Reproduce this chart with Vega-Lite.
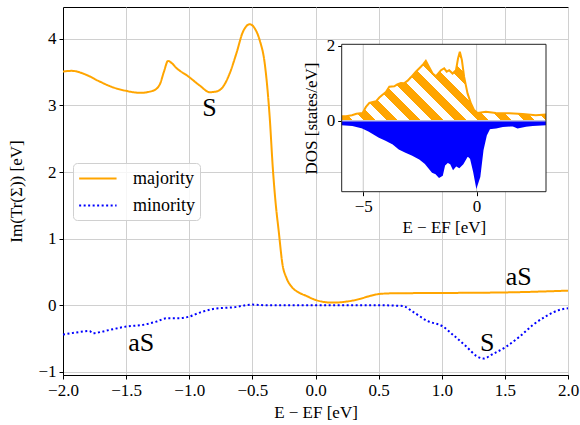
{
  "$schema": "https://vega.github.io/schema/vega-lite/v6.json",
  "width": 505,
  "height": 368,
  "autosize": {"type": "none"},
  "padding": {"left": 63, "top": 7, "right": 12, "bottom": 50},
  "background": "white",
  "config": {
    "font": "Liberation Serif",
    "view": {"stroke": "black", "strokeWidth": 1},
    "axis": {
      "labelFont": "Liberation Serif", "labelFontSize": 17, "labelColor": "black",
      "titleFont": "Liberation Serif", "titleFontSize": 17, "titleFontWeight": "normal", "titleColor": "black",
      "tickColor": "black", "domainColor": "black", "gridColor": "#d0d0d0", "gridWidth": 1,
      "tickSize": 4, "labelPadding": 3, "zindex": 0, "labelFlush": false, "labelOverlap": false, "labelBound": false
    }
  },
  "datasets": {
    "self": [
      {"series": "majority", "E": -2.0, "v": 3.51}, {"series": "majority", "E": -1.93, "v": 3.52}, {"series": "majority", "E": -1.815, "v": 3.46},
      {"series": "majority", "E": -1.71, "v": 3.36}, {"series": "majority", "E": -1.6, "v": 3.27}, {"series": "majority", "E": -1.5, "v": 3.22},
      {"series": "majority", "E": -1.39, "v": 3.19}, {"series": "majority", "E": -1.29, "v": 3.22}, {"series": "majority", "E": -1.235, "v": 3.31},
      {"series": "majority", "E": -1.2, "v": 3.51}, {"series": "majority", "E": -1.168, "v": 3.67}, {"series": "majority", "E": -1.141, "v": 3.64},
      {"series": "majority", "E": -1.1, "v": 3.56}, {"series": "majority", "E": -1.01, "v": 3.44}, {"series": "majority", "E": -0.917, "v": 3.3},
      {"series": "majority", "E": -0.838, "v": 3.2}, {"series": "majority", "E": -0.785, "v": 3.21}, {"series": "majority", "E": -0.733, "v": 3.28},
      {"series": "majority", "E": -0.68, "v": 3.48}, {"series": "majority", "E": -0.627, "v": 3.78}, {"series": "majority", "E": -0.574, "v": 4.11},
      {"series": "majority", "E": -0.52, "v": 4.22}, {"series": "majority", "E": -0.482, "v": 4.16}, {"series": "majority", "E": -0.442, "v": 3.98},
      {"series": "majority", "E": -0.402, "v": 3.63}, {"series": "majority", "E": -0.363, "v": 2.83}, {"series": "majority", "E": -0.337, "v": 2.03},
      {"series": "majority", "E": -0.318, "v": 1.58}, {"series": "majority", "E": -0.29, "v": 1.09}, {"series": "majority", "E": -0.262, "v": 0.62},
      {"series": "majority", "E": -0.23, "v": 0.41}, {"series": "majority", "E": -0.19, "v": 0.28}, {"series": "majority", "E": -0.13, "v": 0.19},
      {"series": "majority", "E": -0.072, "v": 0.14}, {"series": "majority", "E": 0.0, "v": 0.08}, {"series": "majority", "E": 0.13, "v": 0.04},
      {"series": "majority", "E": 0.245, "v": 0.055}, {"series": "majority", "E": 0.35, "v": 0.095}, {"series": "majority", "E": 0.43, "v": 0.14},
      {"series": "majority", "E": 0.508, "v": 0.17}, {"series": "majority", "E": 0.614, "v": 0.18}, {"series": "majority", "E": 1.04, "v": 0.185},
      {"series": "majority", "E": 1.565, "v": 0.195}, {"series": "majority", "E": 2.0, "v": 0.22},
      {"series": "minority", "E": -2.0, "v": -0.44}, {"series": "minority", "E": -1.9, "v": -0.41}, {"series": "minority", "E": -1.79, "v": -0.386},
      {"series": "minority", "E": -1.765, "v": -0.42}, {"series": "minority", "E": -1.7, "v": -0.4}, {"series": "minority", "E": -1.63, "v": -0.37},
      {"series": "minority", "E": -1.5, "v": -0.32}, {"series": "minority", "E": -1.37, "v": -0.295}, {"series": "minority", "E": -1.26, "v": -0.245},
      {"series": "minority", "E": -1.18, "v": -0.195}, {"series": "minority", "E": -1.08, "v": -0.195}, {"series": "minority", "E": -1.0, "v": -0.17},
      {"series": "minority", "E": -0.917, "v": -0.11}, {"series": "minority", "E": -0.81, "v": -0.055}, {"series": "minority", "E": -0.65, "v": -0.03},
      {"series": "minority", "E": -0.5, "v": 0.01}, {"series": "minority", "E": -0.39, "v": 0.0}, {"series": "minority", "E": 0.0, "v": 0.0},
      {"series": "minority", "E": 0.5, "v": 0.0}, {"series": "minority", "E": 0.69, "v": -0.01}, {"series": "minority", "E": 0.77, "v": -0.095},
      {"series": "minority", "E": 0.88, "v": -0.23}, {"series": "minority", "E": 1.01, "v": -0.32}, {"series": "minority", "E": 1.09, "v": -0.445},
      {"series": "minority", "E": 1.195, "v": -0.62}, {"series": "minority", "E": 1.274, "v": -0.76}, {"series": "minority", "E": 1.33, "v": -0.8},
      {"series": "minority", "E": 1.406, "v": -0.73}, {"series": "minority", "E": 1.512, "v": -0.62}, {"series": "minority", "E": 1.617, "v": -0.47},
      {"series": "minority", "E": 1.723, "v": -0.295}, {"series": "minority", "E": 1.83, "v": -0.16}, {"series": "minority", "E": 1.93, "v": -0.07},
      {"series": "minority", "E": 2.0, "v": -0.045}
    ],
    "labels": [
      {"txt": "S", "E": -0.84, "v": 2.96},
      {"txt": "aS", "E": 1.61, "v": 0.42},
      {"txt": "S", "E": 1.36, "v": -0.56},
      {"txt": "aS", "E": -1.38, "v": -0.57}
    ],
    "dosUp": [
      {"E": -5.95, "d": 0.12}, {"E": -5.76, "d": 0.12}, {"E": -5.5, "d": 0.15}, {"E": -5.3, "d": 0.19}, {"E": -5.03, "d": 0.21},
      {"E": -4.88, "d": 0.37}, {"E": -4.73, "d": 0.48}, {"E": -4.44, "d": 0.52}, {"E": -4.29, "d": 0.62}, {"E": -4.0, "d": 0.77},
      {"E": -3.85, "d": 0.91}, {"E": -3.63, "d": 0.92}, {"E": -3.5, "d": 0.97}, {"E": -3.34, "d": 1.01}, {"E": -3.2, "d": 1.0},
      {"E": -3.04, "d": 1.07}, {"E": -2.9, "d": 1.16}, {"E": -2.68, "d": 1.31}, {"E": -2.46, "d": 1.44}, {"E": -2.35, "d": 1.51},
      {"E": -2.24, "d": 1.6}, {"E": -2.12, "d": 1.46}, {"E": -1.94, "d": 1.26}, {"E": -1.79, "d": 1.19}, {"E": -1.57, "d": 1.35},
      {"E": -1.43, "d": 1.4}, {"E": -1.32, "d": 1.31}, {"E": -1.21, "d": 1.35}, {"E": -1.06, "d": 1.26}, {"E": -0.91, "d": 1.35},
      {"E": -0.82, "d": 1.66}, {"E": -0.74, "d": 1.84}, {"E": -0.65, "d": 1.62}, {"E": -0.55, "d": 1.17}, {"E": -0.4, "d": 0.73},
      {"E": -0.25, "d": 0.46}, {"E": -0.11, "d": 0.285}, {"E": 0.04, "d": 0.21}, {"E": 0.41, "d": 0.24}, {"E": 0.85, "d": 0.21},
      {"E": 1.44, "d": 0.2}, {"E": 2.03, "d": 0.18}, {"E": 2.61, "d": 0.15}, {"E": 3.06, "d": 0.17}
    ],
    "dosDn": [
      {"E": -5.95, "d": -0.09}, {"E": -5.47, "d": -0.115}, {"E": -5.03, "d": -0.18}, {"E": -4.73, "d": -0.27}, {"E": -4.29, "d": -0.43},
      {"E": -4.0, "d": -0.51}, {"E": -3.7, "d": -0.6}, {"E": -3.41, "d": -0.74}, {"E": -3.12, "d": -0.83}, {"E": -2.82, "d": -0.91},
      {"E": -2.53, "d": -1.0}, {"E": -2.24, "d": -1.14}, {"E": -1.94, "d": -1.36}, {"E": -1.79, "d": -1.4}, {"E": -1.65, "d": -1.49},
      {"E": -1.53, "d": -1.45}, {"E": -1.43, "d": -1.18}, {"E": -1.28, "d": -1.09}, {"E": -1.13, "d": -1.14}, {"E": -1.03, "d": -1.27},
      {"E": -0.91, "d": -1.18}, {"E": -0.77, "d": -1.23}, {"E": -0.62, "d": -1.14}, {"E": -0.4, "d": -0.91}, {"E": -0.25, "d": -1.0},
      {"E": -0.11, "d": -1.36}, {"E": 0.0, "d": -1.71}, {"E": 0.12, "d": -1.49}, {"E": 0.26, "d": -0.78}, {"E": 0.41, "d": -0.38},
      {"E": 0.56, "d": -0.2}, {"E": 0.85, "d": -0.18}, {"E": 1.15, "d": -0.14}, {"E": 1.59, "d": -0.12}, {"E": 1.81, "d": -0.18},
      {"E": 2.17, "d": -0.13}, {"E": 2.47, "d": -0.11}, {"E": 3.06, "d": -0.09}
    ],
    "insetGrid": [{"g": -5}, {"g": 0}]
  },
  "layer": [
    {
      "layer": [
        {
          "data": {"name": "self"},
          "mark": {"type": "line", "strokeWidth": 2, "interpolate": "monotone", "strokeCap": "butt"},
          "encoding": {
            "x": {
              "field": "E", "type": "quantitative",
              "scale": {"domain": [-2, 2], "nice": false, "zero": false},
              "axis": {"orient": "bottom", "values": [-2, -1.5, -1, -0.5, 0, 0.5, 1, 1.5, 2], "format": ".1f", "grid": true, "title": "E − EF [eV]", "titlePadding": 6, "labelFont": "Liberation Serif", "labelFlush": false}
            },
            "y": {
              "field": "v", "type": "quantitative",
              "scale": {"domain": [-1.047, 4.479], "nice": false, "zero": false},
              "axis": {"orient": "left", "values": [-1, 0, 1, 2, 3, 4], "format": "d", "grid": true, "title": "Im(Tr(Σ)) [eV]", "titlePadding": 12, "labelFont": "Liberation Serif", "labelFlush": false}
            },
            "color": {
              "field": "series", "type": "nominal",
              "scale": {"domain": ["majority", "minority"], "range": ["orange", "blue"]},
              "legend": {
                "title": null, "orient": "none", "legendX": 10, "legendY": 156,
                "symbolType": "M-1,0H3", "symbolSize": 350, "symbolStrokeWidth": 2,
                "labelFont": "Liberation Serif", "labelFontSize": 18, "labelColor": "black", "labelOffset": 34,
                "rowPadding": 7, "padding": 5, "fillColor": "rgba(255,255,255,0.8)",
                "strokeColor": "#d0d0d0", "cornerRadius": 4
              }
            },
            "strokeDash": {
              "field": "series", "type": "nominal",
              "scale": {"domain": ["majority", "minority"], "range": [[1, 0], [2, 2.5]]},
              "legend": {
                "title": null, "orient": "none", "legendX": 10, "legendY": 156,
                "symbolType": "M-1,0H3", "symbolSize": 350, "symbolStrokeWidth": 2,
                "labelFont": "Liberation Serif", "labelFontSize": 18, "labelColor": "black", "labelOffset": 34,
                "rowPadding": 7, "padding": 5, "fillColor": "rgba(255,255,255,0.8)",
                "strokeColor": "#d0d0d0", "cornerRadius": 4
              }
            }
          }
        },
        {
          "data": {"name": "labels"},
          "mark": {"type": "text", "font": "Liberation Serif", "fontSize": 26, "align": "center", "baseline": "middle", "color": "black"},
          "encoding": {
            "x": {"field": "E", "type": "quantitative", "scale": {"domain": [-2, 2], "nice": false, "zero": false}},
            "y": {"field": "v", "type": "quantitative", "scale": {"domain": [-1.047, 4.479], "nice": false, "zero": false}},
            "text": {"field": "txt"}
          }
        }
      ]
    },
    {
      "layer": [
        {
          "data": {"values": [{}]},
          "mark": {"type": "rect", "fill": "white", "stroke": null},
          "encoding": {
            "x": {
              "datum": -5.95, "type": "quantitative",
              "scale": {"domain": [-5.95, 3.06], "range": [278.7, 483], "nice": false, "zero": false},
              "axis": {"orient": "bottom", "offset": -183.3, "values": [-5, 0], "format": "d", "grid": false, "domain": false, "title": "E − EF [eV]", "titlePadding": 5, "labelFont": "Liberation Serif", "labelFlush": false}
            },
            "x2": {"datum": 3.06},
            "y": {
              "datum": -1.89, "type": "quantitative",
              "scale": {"domain": [-1.89, 2.04], "range": [184.7, 37.3], "nice": false, "zero": false},
              "axis": {"orient": "left", "offset": -278.7, "values": [0, 2], "format": "d", "grid": false, "domain": false, "title": "DOS [states/eV]", "titlePadding": 6, "labelFont": "Liberation Serif", "labelFlush": false}
            },
            "y2": {"datum": 2.04}
          }
        },
        {
          "data": {"name": "insetGrid"},
          "mark": {"type": "rule", "color": "#c8c8c8", "strokeWidth": 1},
          "encoding": {
            "x": {"field": "g", "type": "quantitative"},
            "y": {"datum": -1.89, "type": "quantitative"},
            "y2": {"datum": 2.04}
          }
        },
        {
          "data": {"name": "dosUp"},
          "mark": {
            "type": "area", "interpolate": "linear",
            "fill": {
              "gradient": "linear", "x1": 0, "y1": 1, "x2": 1.2, "y2": 0.594,
              "stops": [
                {"offset": 0, "color": "orange"}, {"offset": 0.0417, "color": "orange"}, {"offset": 0.0417, "color": "white"}, {"offset": 0.0833, "color": "white"},
                {"offset": 0.0833, "color": "orange"}, {"offset": 0.125, "color": "orange"}, {"offset": 0.125, "color": "white"}, {"offset": 0.1667, "color": "white"},
                {"offset": 0.1667, "color": "orange"}, {"offset": 0.2083, "color": "orange"}, {"offset": 0.2083, "color": "white"}, {"offset": 0.25, "color": "white"},
                {"offset": 0.25, "color": "orange"}, {"offset": 0.2917, "color": "orange"}, {"offset": 0.2917, "color": "white"}, {"offset": 0.3333, "color": "white"},
                {"offset": 0.3333, "color": "orange"}, {"offset": 0.375, "color": "orange"}, {"offset": 0.375, "color": "white"}, {"offset": 0.4167, "color": "white"},
                {"offset": 0.4167, "color": "orange"}, {"offset": 0.4583, "color": "orange"}, {"offset": 0.4583, "color": "white"}, {"offset": 0.5, "color": "white"},
                {"offset": 0.5, "color": "orange"}, {"offset": 0.5417, "color": "orange"}, {"offset": 0.5417, "color": "white"}, {"offset": 0.5833, "color": "white"},
                {"offset": 0.5833, "color": "orange"}, {"offset": 0.625, "color": "orange"}, {"offset": 0.625, "color": "white"}, {"offset": 0.6667, "color": "white"},
                {"offset": 0.6667, "color": "orange"}, {"offset": 0.7083, "color": "orange"}, {"offset": 0.7083, "color": "white"}, {"offset": 0.75, "color": "white"},
                {"offset": 0.75, "color": "orange"}, {"offset": 0.7917, "color": "orange"}, {"offset": 0.7917, "color": "white"}, {"offset": 0.8333, "color": "white"},
                {"offset": 0.8333, "color": "orange"}, {"offset": 0.875, "color": "orange"}, {"offset": 0.875, "color": "white"}, {"offset": 0.9167, "color": "white"},
                {"offset": 0.9167, "color": "orange"}, {"offset": 0.9583, "color": "orange"}, {"offset": 0.9583, "color": "white"}, {"offset": 1, "color": "white"}
              ]
            }
          },
          "encoding": {
            "x": {"field": "E", "type": "quantitative"},
            "y": {"field": "d", "type": "quantitative"},
            "y2": {"datum": 0}
          }
        },
        {
          "data": {"name": "dosUp"},
          "mark": {"type": "line", "color": "orange", "strokeWidth": 2},
          "encoding": {
            "x": {"field": "E", "type": "quantitative"},
            "y": {"field": "d", "type": "quantitative"}
          }
        },
        {
          "data": {"name": "dosDn"},
          "mark": {"type": "area", "color": "blue", "opacity": 1},
          "encoding": {
            "x": {"field": "E", "type": "quantitative"},
            "y": {"field": "d", "type": "quantitative"},
            "y2": {"datum": 0}
          }
        },
        {
          "data": {"name": "dosDn"},
          "mark": {"type": "line", "color": "blue", "strokeWidth": 2},
          "encoding": {
            "x": {"field": "E", "type": "quantitative"},
            "y": {"field": "d", "type": "quantitative"}
          }
        },
        {
          "data": {"values": [{}]},
          "mark": {"type": "rule", "color": "#c4c4dc", "strokeWidth": 1.5},
          "encoding": {
            "x": {"datum": -5.95, "type": "quantitative"},
            "x2": {"datum": 3.06},
            "y": {"datum": 0, "type": "quantitative"}
          }
        },
        {
          "data": {"values": [{}]},
          "mark": {"type": "rect", "fill": null, "fillOpacity": 0, "stroke": "#222222", "strokeWidth": 1},
          "encoding": {
            "x": {"datum": -5.95, "type": "quantitative"},
            "x2": {"datum": 3.06},
            "y": {"datum": -1.89, "type": "quantitative"},
            "y2": {"datum": 2.04}
          }
        }
      ]
    }
  ],
  "resolve": {
    "scale": {"x": "independent", "y": "independent"},
    "axis": {"x": "independent", "y": "independent"}
  }
}
